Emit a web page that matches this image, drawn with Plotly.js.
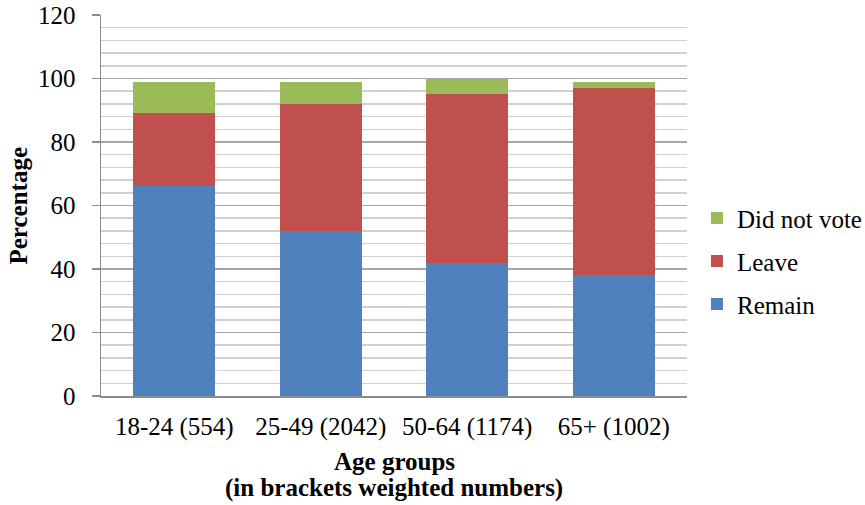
<!DOCTYPE html>
<html>
<head>
<meta charset="utf-8">
<script src="https://cdn.plot.ly/plotly-3.0.1.min.js"></script>
<style>html,body{margin:0;padding:0;background:#fff;}#chart{width:865px;height:505px;}</style>
</head>
<body>
<div id="chart"></div>
<script>
const categories = ["18-24 (554)", "25-49 (2042)", "50-64 (1174)", "65+ (1002)"];
const remain = [66, 52, 42, 38];
const leave = [23, 40, 53, 59];
const didNotVote = [10, 7, 5, 2];
const seriesNames = ["Remain", "Leave", "Did not vote"];
const seriesColors = ["#4F81BD", "#C0504D", "#9BBB59"];
const yTickVals = [0, 20, 40, 60, 80, 100, 120];
const xTitleLines = ["Age groups", "(in brackets weighted numbers)"];
const yTitle = "Percentage";

const font = "Liberation Serif";
const series = [remain, leave, didNotVote];
const traces = series.map((vals, i) => ({
  type: "bar",
  x: categories,
  y: vals,
  name: seriesNames[i],
  showlegend: false,
  marker: {color: seriesColors[i], line: {width: 0}},
  hoverinfo: "x+y+name"
}));
// legend-only entries with small square swatches
const legendTraces = seriesNames.map((nm, i) => ({
  type: "scatter", mode: "markers",
  x: [null], y: [null],
  name: nm, legendgroup: nm,
  marker: {symbol: "square", size: 12, color: seriesColors[i]},
  showlegend: true
})).reverse();

const layout = {
  width: 865, height: 505,
  margin: {l: 101, r: 178, t: 15, b: 109, autoexpand: false},
  barmode: "stack",
  bargap: 0.44,
  paper_bgcolor: "#fff",
  plot_bgcolor: "#fff",
  font: {family: font, size: 25, color: "#000"},
  showlegend: true,
  legend: {
    x: 1.017, xanchor: "left", y: 0.354, yanchor: "middle",
    traceorder: "grouped",
    tracegroupgap: 7.5,
    font: {family: font, size: 25, color: "#000"},
    itemwidth: 30
  },
  xaxis: {
    type: "category",
    showline: true, linecolor: "#8c8c8c", linewidth: 1.5,
    ticks: "", showgrid: false,
    tickfont: {family: font, size: 25},
    ticklabelstandoff: 7,
    automargin: false
  },
  yaxis: {
    range: [0, 120],
    tickvals: yTickVals,
    ticks: "outside", ticklen: 8, tickcolor: "#8c8c8c", tickwidth: 1.5,
    showline: true, linecolor: "#8c8c8c", linewidth: 1.5,
    showgrid: true, gridcolor: "#a6a6a6", gridwidth: 1.5,
    zeroline: false,
    minor: {dtick: 4, showgrid: true, gridcolor: "#d0d0d0", gridwidth: 1.5, ticks: ""},
    tickfont: {family: font, size: 25},
    ticklabelstandoff: 11,
    automargin: false
  },
  annotations: [
    {text: "<b>" + xTitleLines[0] + "</b>", xref: "paper", yref: "paper", x: 0.5, y: -0.171,
     xanchor: "center", yanchor: "middle", showarrow: false, font: {family: font, size: 25}},
    {text: "<b>" + xTitleLines[1] + "</b>", xref: "paper", yref: "paper", x: 0.5, y: -0.242,
     xanchor: "center", yanchor: "middle", showarrow: false, font: {family: font, size: 25}},
    {text: "<b>" + yTitle + "</b>", xref: "paper", yref: "paper", x: -0.1416, y: 0.5,
     xanchor: "center", yanchor: "middle", textangle: -90, showarrow: false, font: {family: font, size: 25}}
  ]
};

Plotly.newPlot("chart", traces.concat(legendTraces), layout, {staticPlot: true, displayModeBar: false});
</script>
</body>
</html>
